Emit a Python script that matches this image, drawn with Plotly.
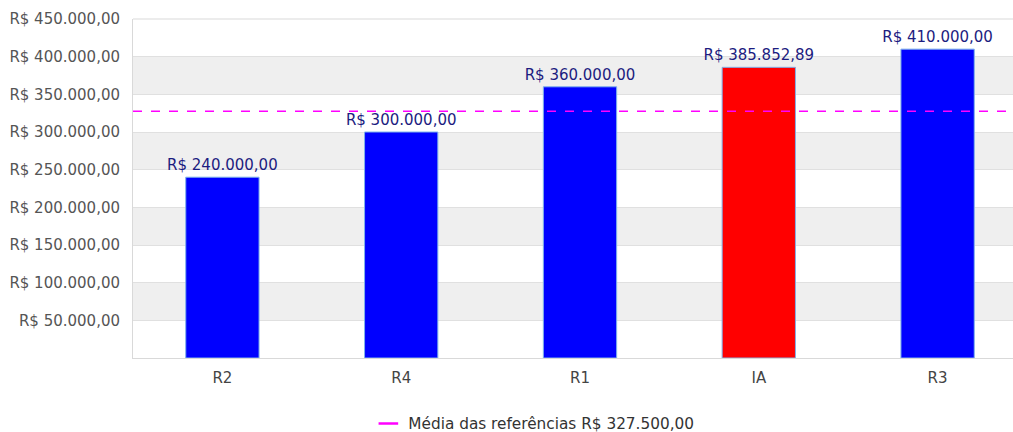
import plotly.graph_objects as go

categories = ["R2", "R4", "R1", "IA", "R3"]
values = [240000, 300000, 360000, 385852.89, 410000]
bar_colors = ["#0000ff", "#0000ff", "#0000ff", "#ff0000", "#0000ff"]
bar_labels = ["R$ 240.000,00", "R$ 300.000,00", "R$ 360.000,00", "R$ 385.852,89", "R$ 410.000,00"]
average = 327500
average_label = "Média das referências R$ 327.500,00"
y_tickvals = [50000, 100000, 150000, 200000, 250000, 300000, 350000, 400000, 450000]
y_ticktext = ["R$ 50.000,00", "R$ 100.000,00", "R$ 150.000,00", "R$ 200.000,00", "R$ 250.000,00",
              "R$ 300.000,00", "R$ 350.000,00", "R$ 400.000,00", "R$ 450.000,00"]

FONT = "DejaVu Sans"
FS = 15

fig = go.Figure()
fig.add_trace(go.Bar(
    x=categories, y=values,
    marker=dict(color=bar_colors, line=dict(color="#7fb2ea", width=1)),
    text=bar_labels, textposition="outside", constraintext="none",
    textfont=dict(family=FONT, size=FS, color="#1c1c80"),
    cliponaxis=False, showlegend=False, hoverinfo="x+y",
))
# legend entry for the average
fig.add_trace(go.Scatter(
    x=[None], y=[None], mode="markers", name=average_label,
    marker=dict(symbol="line-ew-open", size=14, color="#ff00ff",
                line=dict(color="#ff00ff", width=2.5)),
))

shapes = []
edges = [0] + y_tickvals
for i in range(len(edges) - 1):
    if i % 2 == 1:
        shapes.append(dict(type="rect", xref="paper", yref="y", x0=0, x1=1,
                           y0=edges[i], y1=edges[i + 1], fillcolor="#efefef",
                           line=dict(width=0), layer="below"))
shapes.append(dict(type="line", xref="paper", yref="y", x0=0, x1=1,
                   y0=average, y1=average,
                   line=dict(color="#ff00ff", width=1.5, dash="dash"), layer="above"))
shapes.append(dict(type="line", xref="paper", yref="paper", x0=0, x1=1, y0=1, y1=1,
                   line=dict(color="#d9d9d9", width=1)))

fig.update_layout(
    width=1027, height=432,
    margin=dict(l=133, r=0, t=19, b=74, autoexpand=False),
    paper_bgcolor="white", plot_bgcolor="white",
    font=dict(family=FONT, size=FS, color="#444"),
    bargap=0.59,
    shapes=shapes,
    showlegend=True,
    legend=dict(orientation="h", x=0.4484, xanchor="center", xref="paper",
                y=-0.1445, yanchor="top", font=dict(family=FONT, size=15.3, color="#333"),
                bgcolor="rgba(0,0,0,0)"),
    xaxis=dict(showgrid=False, showline=True, linecolor="#d9d9d9", linewidth=1,
               ticks="outside", ticklen=6, tickcolor="rgba(0,0,0,0)", automargin=False,
               tickfont=dict(family=FONT, size=FS, color="#444")),
    yaxis=dict(range=[0, 450000], tickvals=y_tickvals, ticktext=y_ticktext,
               showgrid=True, gridcolor="#e0e0e0", gridwidth=1,
               showline=True, linecolor="#d9d9d9", linewidth=1,
               ticks="outside", ticklen=9, tickcolor="rgba(0,0,0,0)", automargin=False,
               tickfont=dict(family=FONT, size=FS, color="#555"),
               zeroline=False),
)

fig.write_html("out.html", config={"displayModeBar": False},
               post_script="document.body.style.margin='0';document.body.style.overflow='hidden';")
